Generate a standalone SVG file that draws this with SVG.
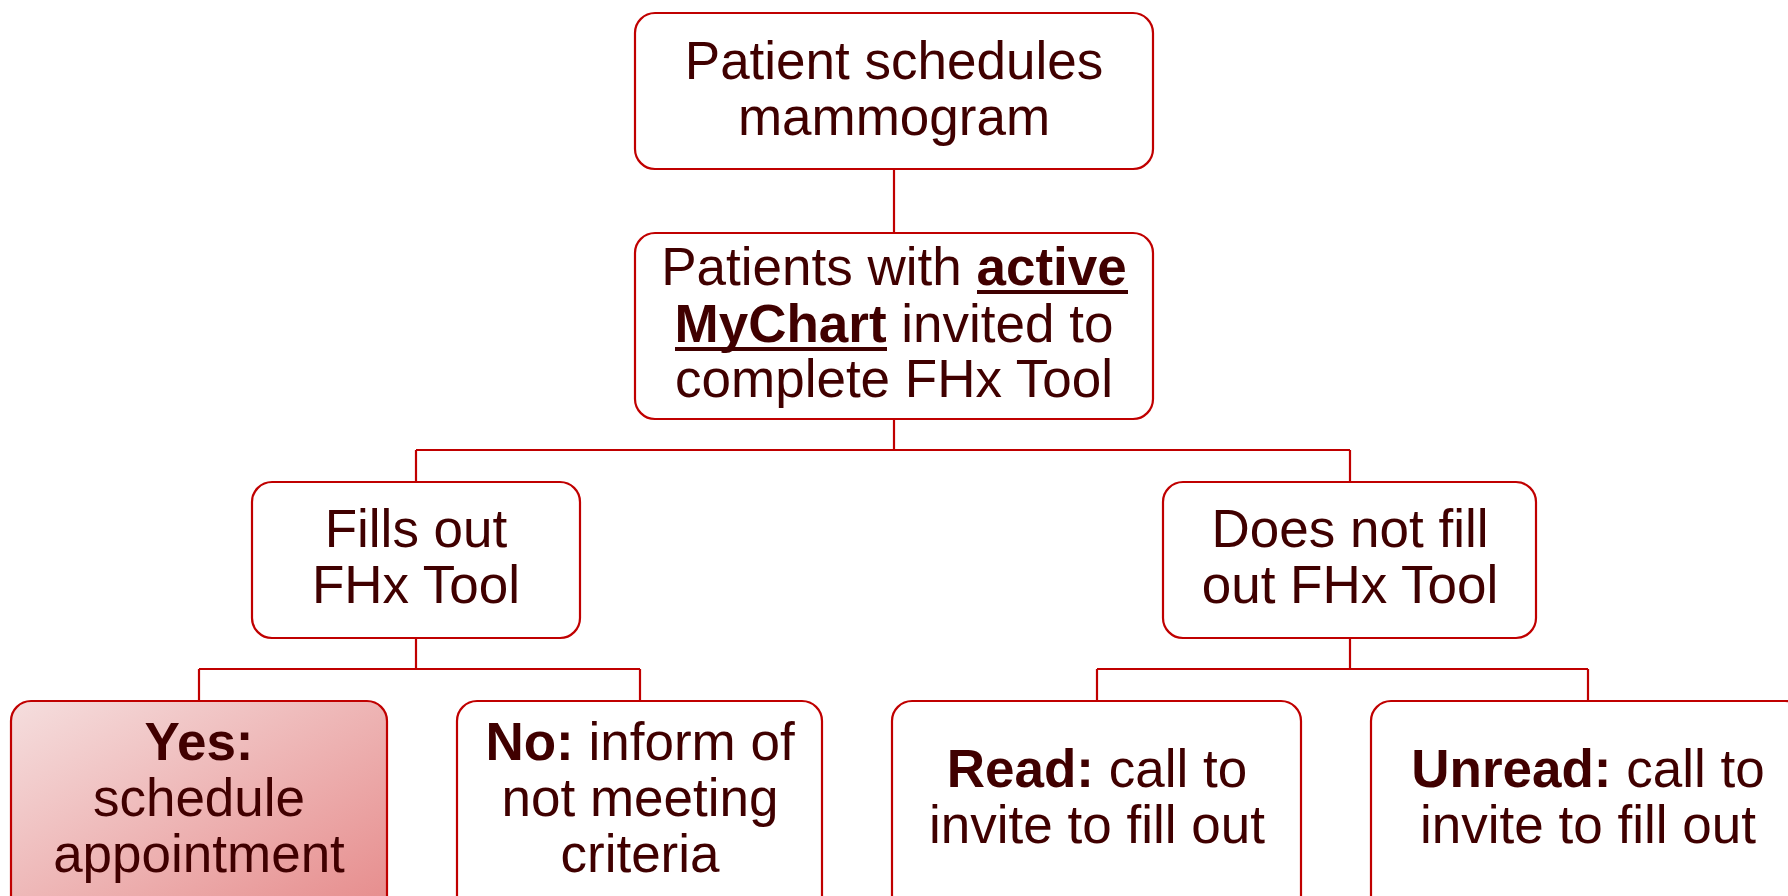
<svg xmlns="http://www.w3.org/2000/svg" width="1788" height="896" viewBox="0 0 1788 896">
  <defs>
    <linearGradient id="yesFill" x1="0" y1="0" x2="1" y2="1">
      <stop offset="0" stop-color="#f5dede"/>
      <stop offset="1" stop-color="#e68a8a"/>
    </linearGradient>
    <style>
      .box { fill: #ffffff; stroke: #c00000; stroke-width: 2.2; }
      .box.yes { fill: url(#yesFill); }
      .link { fill: none; stroke: #c00000; stroke-width: 2.2; }
      .t { font-family: "Liberation Sans", Arial, sans-serif; font-size: 53px; fill: #400000; text-anchor: middle; }
      .b { font-weight: bold; }
      .ul { fill: #400000; }
    </style>
  </defs>
  <rect width="1788" height="896" fill="#ffffff"/>

  <!-- connectors -->
  <g id="connectors">
    <path class="link" d="M894 169 V233"/>
    <path class="link" d="M894 419 V450 M416 450 H1350 M416 450 V482 M1350 450 V482"/>
    <path class="link" d="M416 638 V669 M199 669 H640 M199 669 V701 M640 669 V701"/>
    <path class="link" d="M1350 638 V669 M1097 669 H1588 M1097 669 V701 M1588 669 V701"/>
  </g>

  <g id="schedules">
    <rect class="box" x="635" y="13" width="518" height="156" rx="20"/>
    <text class="t" x="894" y="79">Patient schedules</text>
    <text class="t" x="894" y="135">mammogram</text>
  </g>

  <g id="invited">
    <rect class="box" x="635" y="233" width="518" height="186" rx="20"/>
    <text class="t" x="894" y="285">Patients with <tspan class="b">active</tspan></text>
    <text class="t" x="894" y="342"><tspan class="b">MyChart</tspan> invited to</text>
    <text class="t" x="894" y="397">complete FHx Tool</text>
    <!-- heavy underlines under the bold words -->
    <rect class="ul" x="977" y="290" width="151" height="4"/>
    <rect class="ul" x="675" y="347" width="212" height="4"/>
  </g>

  <g id="fills-out">
    <rect class="box" x="252" y="482" width="328" height="156" rx="20"/>
    <text class="t" x="416" y="547">Fills out</text>
    <text class="t" x="416" y="603">FHx Tool</text>
  </g>

  <g id="does-not-fill">
    <rect class="box" x="1163" y="482" width="373" height="156" rx="20"/>
    <text class="t" x="1350" y="547">Does not fill</text>
    <text class="t" x="1350" y="603">out FHx Tool</text>
  </g>

  <g id="yes">
    <rect class="box yes" x="11" y="701" width="376" height="220" rx="20"/>
    <text class="t" x="199" y="760"><tspan class="b">Yes:</tspan></text>
    <text class="t" x="199" y="816">schedule</text>
    <text class="t" x="199" y="872">appointment</text>
  </g>

  <g id="no">
    <rect class="box" x="457" y="701" width="365" height="220" rx="20"/>
    <text class="t" x="640" y="760"><tspan class="b">No:</tspan> inform of</text>
    <text class="t" x="640" y="816">not meeting</text>
    <text class="t" x="640" y="872">criteria</text>
  </g>

  <g id="read">
    <rect class="box" x="892" y="701" width="409" height="220" rx="20"/>
    <text class="t" x="1097" y="787"><tspan class="b">Read:</tspan> call to</text>
    <text class="t" x="1097" y="843">invite to fill out</text>
  </g>

  <g id="unread">
    <rect class="box" x="1371" y="701" width="434" height="220" rx="20"/>
    <text class="t" x="1588" y="787"><tspan class="b">Unread:</tspan> call to</text>
    <text class="t" x="1588" y="843">invite to fill out</text>
  </g>
</svg>
